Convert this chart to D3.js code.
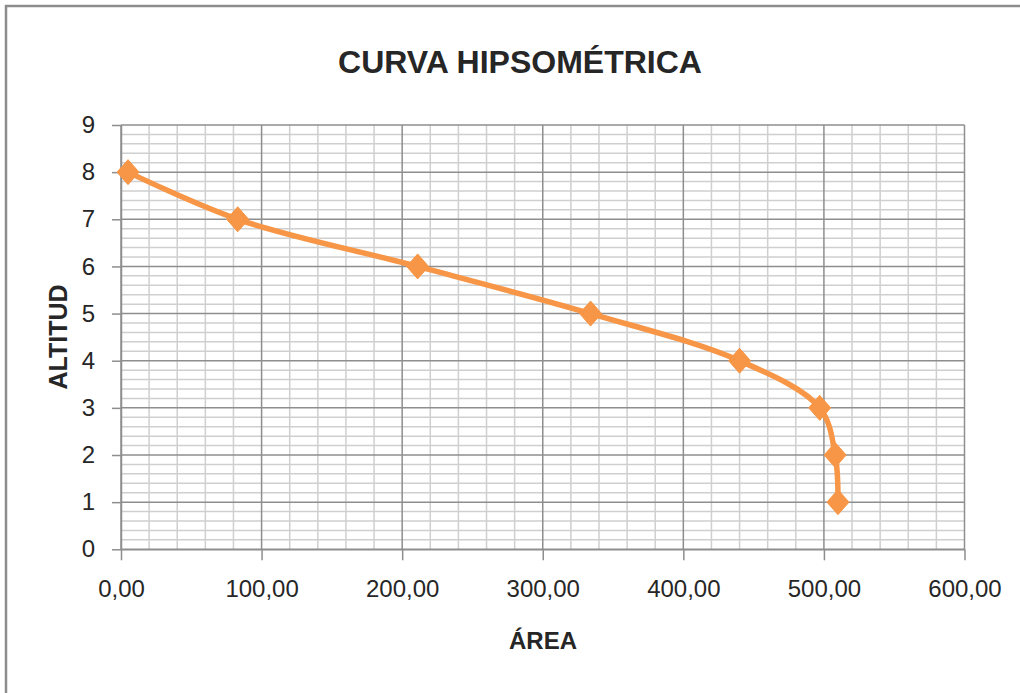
<!DOCTYPE html>
<html>
<head>
<meta charset="utf-8">
<script src="https://cdn.jsdelivr.net/npm/d3@7"></script>
<style>
  html, body { margin: 0; padding: 0; background: #fff; }
  svg { display: block; }
  text { font-family: "Liberation Sans", Arial, sans-serif; fill: #262626; }
</style>
</head>
<body>
<div id="chart"></div>
<script>
// datos de la curva hipsometrica
var area = [5, 83, 211, 334, 440, 497, 508, 510];
var altitud = [8, 7, 6, 5, 4, 3, 2, 1];
var xTicks = [0, 100, 200, 300, 400, 500, 600];
var yTicks = [0, 1, 2, 3, 4, 5, 6, 7, 8, 9];
var titulo = "CURVA HIPSOMÉTRICA";
var tituloX = "ÁREA";
var tituloY = "ALTITUD";

var W = 1020, H = 693;
var mLeft = 121, mRight = 964.5, mTop = 125, mBottom = 549.3;

var svg = d3.select("#chart").append("svg")
  .attr("width", W)
  .attr("height", H);

svg.append("rect").attr("width", W).attr("height", H).attr("fill", "#fff");

// marco del grafico (cortado a la derecha y abajo)
svg.append("path")
  .attr("d", "M6," + H + "V6H" + W)
  .attr("fill", "none")
  .attr("stroke", "#8c8c8c")
  .attr("stroke-width", 2.5);

var x = d3.scaleLinear().domain([0, 600]).range([mLeft, mRight]);
var y = d3.scaleLinear().domain([0, 9]).range([mBottom, mTop]);

// rejilla menor
var minorX = d3.range(0, 601, 20).filter(v => v % 100 != 0);
var minorY = d3.range(0, 46).map(v => v / 5).filter(v => Math.abs(v - Math.round(v)) > 0.01);

svg.append("g").selectAll("line").data(minorX).enter().append("line")
  .attr("x1", d => x(d)).attr("x2", d => x(d))
  .attr("y1", mTop).attr("y2", mBottom)
  .attr("stroke", "#cfcfcf").attr("stroke-width", 1.5);

svg.append("g").selectAll("line").data(minorY).enter().append("line")
  .attr("x1", mLeft).attr("x2", mRight)
  .attr("y1", d => y(d)).attr("y2", d => y(d))
  .attr("stroke", "#cfcfcf").attr("stroke-width", 1.5);

// rejilla mayor
svg.append("g").selectAll("line").data(xTicks).enter().append("line")
  .attr("x1", d => x(d)).attr("x2", d => x(d))
  .attr("y1", mTop).attr("y2", mBottom)
  .attr("stroke", "#8e8e8e").attr("stroke-width", 1.5);

svg.append("g").selectAll("line").data(yTicks).enter().append("line")
  .attr("x1", mLeft).attr("x2", mRight)
  .attr("y1", d => y(d)).attr("y2", d => y(d))
  .attr("stroke", "#8e8e8e").attr("stroke-width", 1.5);

// ejes
var fmtX = d => d3.format(".2f")(d).replace(".", ",");

var gx = svg.append("g")
  .attr("transform", "translate(0," + mBottom + ")")
  .call(d3.axisBottom(x).tickValues(xTicks).tickFormat(fmtX).tickSize(11).tickSizeOuter(0).tickPadding(20));

var gy = svg.append("g")
  .attr("transform", "translate(" + mLeft + ",0)")
  .call(d3.axisLeft(y).tickValues(yTicks).tickFormat(d3.format("d")).tickSize(9).tickSizeOuter(0).tickPadding(17));

[gx, gy].forEach(function(g) {
  g.select(".domain").attr("stroke", "#8e8e8e").attr("stroke-width", 1.5);
  g.selectAll(".tick line").attr("stroke", "#8e8e8e").attr("stroke-width", 1.5);
  g.selectAll(".tick text").attr("fill", "#262626").style("font-size", "24px")
    .style("font-family", "'Liberation Sans', Arial, sans-serif");
});
gx.selectAll(".tick text").attr("dy", "0.71em");

// titulos
svg.append("text")
  .attr("x", 520).attr("y", 73)
  .attr("text-anchor", "middle")
  .style("font-size", "32px").style("font-weight", "bold")
  .attr("fill", "#000")
  .text(titulo);

svg.append("text")
  .attr("x", 543).attr("y", 649)
  .attr("text-anchor", "middle")
  .style("font-size", "24px").style("font-weight", "bold")
  .attr("fill", "#000")
  .text(tituloX);

svg.append("text")
  .attr("transform", "translate(67,337) rotate(-90)")
  .attr("text-anchor", "middle")
  .style("font-size", "25px").style("font-weight", "bold")
  .attr("fill", "#000")
  .text(tituloY);

// serie
var puntos = area.map((a, i) => ({ a: a, h: altitud[i] }));
var color = "#f79646";

svg.append("path")
  .datum(puntos)
  .attr("fill", "none")
  .attr("stroke", color)
  .attr("stroke-width", 5.5)
  .attr("stroke-linejoin", "round")
  .attr("d", d3.line().x(d => x(d.a)).y(d => y(d.h)).curve(d3.curveCatmullRom.alpha(0.5)));

svg.append("g").selectAll("path").data(puntos).enter().append("path")
  .attr("transform", d => "translate(" + x(d.a) + "," + y(d.h) + ")")
  .attr("d", "M0,-12.5L11,0L0,12.5L-11,0Z")
  .attr("fill", color)
  .attr("stroke", color)
  .attr("stroke-width", 1);
</script>
</body>
</html>
